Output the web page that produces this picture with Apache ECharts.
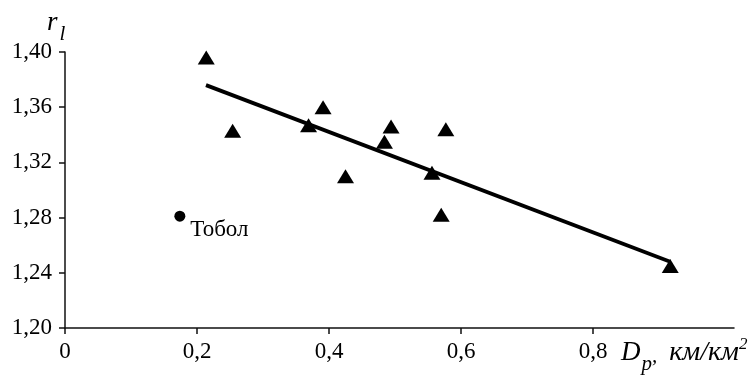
<!DOCTYPE html>
<html><head><meta charset="utf-8">
<script src="https://cdn.jsdelivr.net/npm/echarts@6/dist/echarts.min.js"></script>
<style>html,body{margin:0;padding:0;background:#fff}#c{width:752px;height:376px}</style>
</head><body><div id="c"></div>
<script>
const basinX = [0.214, 0.254, 0.369, 0.391, 0.425, 0.484, 0.494, 0.556, 0.570, 0.577, 0.917];
const basinY = [1.396, 1.343, 1.347, 1.360, 1.310, 1.335, 1.346, 1.3125, 1.282, 1.344, 1.245];
const toboLX = [0.174];
const toboLY = [1.281];
const toboLName = 'Тобол';
const trendX = [0.2136, 0.917];
const trendY = [1.376, 1.248];
const xTicks = [0, 0.2, 0.4, 0.6, 0.8];
const xTickLabels = ['0', '0,2', '0,4', '0,6', '0,8'];
const yTicks = [1.20, 1.24, 1.28, 1.32, 1.36, 1.40];
const yTickLabels = ['1,20', '1,24', '1,28', '1,32', '1,36', '1,40'];

const font = 'Liberation Serif';
const chart = echarts.init(document.getElementById('c'));
const axisLineStyle = {color: '#111', width: 1.5};
chart.setOption({
  animation: false,
  grid: {left: 65, right: 18, top: 52, bottom: 48},
  xAxis: {
    type: 'value', min: 0, max: 1.0136, interval: 0.2,
    splitLine: {show: false},
    axisLine: {lineStyle: axisLineStyle},
    axisTick: {customValues: xTicks, length: 6, lineStyle: axisLineStyle},
    axisLabel: {customValues: xTicks, margin: 12, fontFamily: font, fontSize: 23, color: '#000',
      formatter: v => xTickLabels[xTicks.findIndex(t => Math.abs(t - v) < 1e-6)] || ''}
  },
  yAxis: {
    type: 'value', min: 1.20, max: 1.40,
    splitLine: {show: false},
    axisLine: {show: true, lineStyle: axisLineStyle},
    axisTick: {show: true, customValues: yTicks, length: 6, lineStyle: axisLineStyle},
    axisLabel: {customValues: yTicks, margin: 13, fontFamily: font, fontSize: 23, color: '#000',
      formatter: v => yTickLabels[yTicks.findIndex(t => Math.abs(t - v) < 1e-6)] || ''}
  },
  graphic: [
    {type: 'text', left: 47, top: 9, style: {
      text: '{r|r}{s|l}', fill: '#000',
      rich: {r: {fontFamily: font, fontStyle: 'italic', fontSize: 27, fill: '#000'},
             s: {fontFamily: font, fontStyle: 'italic', fontSize: 21, fill: '#000', padding: [24, 0, 0, 2]}}
    }},
    {type: 'text', left: 621, top: 336, style: {
      text: '{d|D}{s|p}{c|,}{k|км/км}{u|2}', fill: '#000',
      rich: {d: {fontFamily: font, fontStyle: 'italic', fontSize: 27, fill: '#000'},
             s: {fontFamily: font, fontStyle: 'italic', fontSize: 21, fill: '#000', padding: [24, 0, 0, 1]},
             c: {fontFamily: font, fontStyle: 'italic', fontSize: 21, fill: '#000', padding: [8, 12, 0, 0]},
             k: {fontFamily: font, fontStyle: 'italic', fontSize: 28, fill: '#000'},
             u: {fontFamily: font, fontStyle: 'italic', fontSize: 17, fill: '#000', padding: [0, 0, 16, 0]}}
    }}
  ],
  series: [
    {type: 'line', data: trendX.map((x, i) => [x, trendY[i]]), showSymbol: false, symbol: 'none',
     lineStyle: {color: '#000', width: 3.8}, z: 2},
    {type: 'scatter', data: basinX.map((x, i) => [x, basinY[i]]), symbol: 'triangle', symbolSize: [17, 14],
     itemStyle: {color: '#000', opacity: 1}, z: 3},
    {type: 'scatter', data: toboLX.map((x, i) => [x, toboLY[i]]), symbol: 'circle', symbolSize: 11,
     itemStyle: {color: '#000', opacity: 1}, z: 3,
     label: {show: true, formatter: toboLName, position: 'right', offset: [1, 14], distance: 4,
       fontFamily: font, fontSize: 23, color: '#000'}}
  ]
});
</script></body></html>
